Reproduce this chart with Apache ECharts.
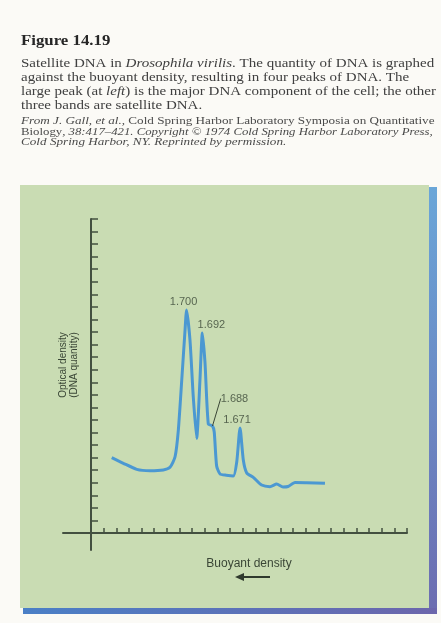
<!DOCTYPE html>
<html>
<head>
<meta charset="utf-8">
<script src="https://cdn.jsdelivr.net/npm/echarts@6/dist/echarts.min.js"></script>
<style>
  html, body { margin: 0; padding: 0; background: #fbfaf6; }
  #chart { width: 441px; height: 623px; }
</style>
</head>
<body>
<div id="chart"></div>
<script>
// caption text (rich markup for italics)
const figTitle = 'Figure 14.19';
const captionLines = [
  'Satellite DNA in {i|Drosophila virilis}. The quantity of DNA is graphed',
  'against the buoyant density, resulting in four peaks of DNA. The',
  'large peak (at {i|left}) is the major DNA component of the cell; the other',
  'three bands are satellite DNA.',
];
const sourceLines = [
  'From J. Gall, et al., {r|Cold Spring Harbor Laboratory Symposia on Quantitative}',
  '{r|Biology}, 38:417–421. Copyright © 1974 Cold Spring Harbor Laboratory Press,',
  'Cold Spring Harbor, NY. Reprinted by permission.',
];

// densitometer trace (axis units = tick marks)
const traceX = [1.64, 2.56, 3.62, 4.67, 5.72, 6.25, 6.65, 6.91, 7.18, 7.44, 7.56, 7.83, 8.09, 8.36, 8.62, 8.81, 9.02, 9.28, 9.61, 9.75, 9.94, 10.21, 10.7, 11.26, 11.53, 11.79, 12.05, 12.32, 12.84, 13.5, 14.16, 14.69, 15.19, 15.59, 16.14, 17.06, 18.51];
const traceY = [6.0, 5.55, 5.07, 4.96, 5.02, 5.23, 6.07, 8.2, 12.18, 16.16, 17.75, 15.37, 10.85, 7.52, 12.18, 15.92, 13.54, 8.68, 8.52, 8.04, 5.33, 4.7, 4.6, 4.54, 5.65, 8.36, 5.81, 4.78, 4.43, 3.82, 3.69, 3.9, 3.66, 3.7, 4.02, 4.0, 3.96];
// peaks: index into the trace + density label
const peakIdx = [10, 15, 18, 25];
const peakLabels = ['1.700', '1.692', '1.688', '1.671'];

const axisMax = 25;

const axisColor = '#435040';
const textColor = '#3a4636';
const lineColor = '#4b98d2';

let myChart = echarts.init(document.getElementById('chart'));

const richCap = {
  i: { fontFamily: 'Liberation Serif', fontSize: 12.5, fontStyle: 'italic', fill: '#404040' },
};
const richSrc = {
  r: { fontFamily: 'Liberation Serif', fontSize: 9.5, fontStyle: 'normal', fill: '#4a4a4a' },
};
// the scan is stretched sideways, so each source line gets its own stretch
const srcStretch = [1.385, 1.345, 1.385];

let graphics = [
  // green panel + blue edges
  { type: 'rect', z: 0, shape: { x: 20, y: 185, width: 409, height: 423 }, style: { fill: '#c9dcb3' } },
  {
    type: 'rect', z: 0, shape: { x: 429, y: 187, width: 8, height: 427 },
    style: { fill: new echarts.graphic.LinearGradient(0, 0, 0, 1, [
      { offset: 0, color: '#6aa6d8' }, { offset: 1, color: '#6c6cb0' }]) },
  },
  {
    type: 'rect', z: 0, shape: { x: 23, y: 608, width: 414, height: 6 },
    style: { fill: new echarts.graphic.LinearGradient(0, 0, 1, 0, [
      { offset: 0, color: '#4a7fc6' }, { offset: 1, color: '#6c66ac' }]) },
  },
  {
    type: 'text', x: 21, y: 41, scaleX: 1.2,
    style: { text: figTitle, fontFamily: 'Liberation Serif', fontSize: 14, fontWeight: 'bold', fill: '#262626', verticalAlign: 'middle' },
  },
  // direction arrow under the x axis name
  {
    type: 'group', z: 5,
    children: [
      { type: 'line', shape: { x1: 242, y1: 577, x2: 270, y2: 577 }, style: { stroke: '#2f3a2d', lineWidth: 2 } },
      { type: 'polygon', shape: { points: [[235, 577], [244, 573], [244, 581]] }, style: { fill: '#2f3a2d' } },
    ],
  },
];
captionLines.forEach((t, i) => {
  graphics.push({
    type: 'text', x: 21, y: 63.3 + i * 14.1, scaleX: 1.2,
    style: { text: t, rich: richCap, fontFamily: 'Liberation Serif', fontSize: 12.5, fill: '#404040', verticalAlign: 'middle' },
  });
});
sourceLines.forEach((t, i) => {
  graphics.push({
    type: 'text', x: 21, y: 121.7 + i * 10.5, scaleX: srcStretch[i],
    style: { text: t, rich: richSrc, fontFamily: 'Liberation Serif', fontSize: 9.5, fontStyle: 'italic', fill: '#4a4a4a', verticalAlign: 'middle' },
  });
});

let option = {
  animation: false,
  backgroundColor: '#fbfaf6',
  graphic: graphics,
  grid: [
    {
      // tick grid
      left: 91,
      top: 219,
      width: 316,
      height: 314,
      containLabel: false,
      outerBoundsMode: 'none',
    },
    {
      // axis lines running past the origin
      left: 63,
      top: 219,
      width: 344,
      height: 331,
      containLabel: false,
      outerBoundsMode: 'none',
    },
  ],
  xAxis: [
    {
      gridIndex: 0,
      type: 'value',
      min: 0,
      max: axisMax,
      interval: 1,
      axisLine: { show: false },
      axisTick: { show: true, inside: true, length: 5, lineStyle: { color: axisColor, width: 1.5 } },
      axisLabel: { show: false },
      splitLine: { show: false },
      name: 'Buoyant density',
      nameLocation: 'middle',
      nameGap: 25,
      nameTextStyle: { fontFamily: 'Liberation Sans', fontSize: 12, color: textColor },
    },
    {
      gridIndex: 1,
      type: 'value',
      min: -(28 / 12.64),
      max: axisMax,
      axisLine: { show: true, onZero: true, lineStyle: { color: axisColor, width: 2 } },
      axisTick: { show: false },
      axisLabel: { show: false },
      splitLine: { show: false },
    },
  ],
  yAxis: [
    {
      gridIndex: 0,
      type: 'value',
      min: 0,
      max: axisMax,
      interval: 1,
      axisLine: { show: false },
      axisTick: { show: true, inside: true, length: 7, lineStyle: { color: axisColor, width: 1.5 } },
      axisLabel: { show: false },
      splitLine: { show: false },
      name: 'Optical density\n(DNA quantity)',
      nameLocation: 'middle',
      nameGap: 11,
      nameRotate: 90,
      nameTextStyle: { fontFamily: 'Liberation Sans', fontSize: 10, color: textColor, lineHeight: 11, padding: [0, 0, 0, 22] },
    },
    {
      gridIndex: 1,
      type: 'value',
      min: -(17 / 12.56),
      max: axisMax,
      axisLine: { show: true, onZero: true, lineStyle: { color: axisColor, width: 2 } },
      axisTick: { show: false },
      axisLabel: { show: false },
      splitLine: { show: false },
    },
  ],
  series: [
    {
      name: 'trace',
      type: 'line',
      xAxisIndex: 0,
      yAxisIndex: 0,
      data: traceX.map((x, i) => [x, traceY[i]]),
      smooth: 0.2,
      showSymbol: false,
      lineStyle: { color: lineColor, width: 3 },
      z: 3,
    },
    {
      name: 'peaks',
      type: 'scatter',
      xAxisIndex: 0,
      yAxisIndex: 0,
      symbolSize: 0,
      data: peakIdx.map((k, i) => {
        let item = { value: [traceX[k], traceY[k]], name: peakLabels[i] };
        // only the shoulder band gets a leader line
        item.labelLine = { show: peakLabels[i] === '1.688' };
        return item;
      }),
      label: {
        show: true,
        position: 'top',
        distance: 3,
        formatter: '{b}',
        fontFamily: 'Liberation Sans',
        fontSize: 11,
        color: textColor,
      },
      labelLayout(params) {
        // nudge labels the way the figure places them
        const moves = [[-3, 0], [9, 0], [22, -19], [-3, 0]];
        const m = moves[params.dataIndex];
        return { dx: m[0], dy: m[1] };
      },
      labelLine: {
        show: false,
        lineStyle: { color: textColor, width: 1 },
      },
      z: 4,
    },
  ],
};
myChart.setOption(option);
</script>
</body>
</html>
